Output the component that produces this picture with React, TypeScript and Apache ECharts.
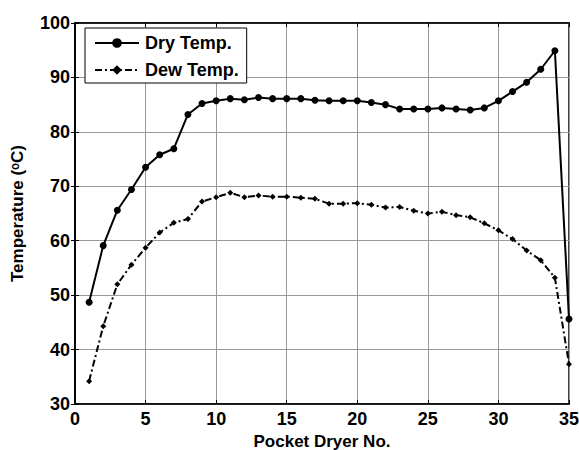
import React, { useEffect, useRef } from "react";
import * as echarts from "echarts";

const dryerNo = Array.from({ length: 35 }, (_, i) => i + 1);
const dryTemp = [48.7, 59.1, 65.6, 69.4, 73.5, 75.8, 76.9, 83.2, 85.2, 85.7, 86.1, 85.9, 86.3, 86.1, 86.1, 86.1, 85.8, 85.7, 85.7, 85.7, 85.4, 85.0, 84.2, 84.2, 84.2, 84.4, 84.2, 84.0, 84.4, 85.7, 87.4, 89.1, 91.5, 94.9, 45.6];
const dewTemp = [34.2, 44.3, 52.0, 55.6, 58.7, 61.5, 63.3, 64.0, 67.2, 68.0, 68.8, 68.0, 68.3, 68.1, 68.1, 67.9, 67.7, 66.8, 66.8, 66.9, 66.6, 66.1, 66.2, 65.5, 65.0, 65.3, 64.7, 64.3, 63.2, 61.9, 60.3, 58.2, 56.4, 53.2, 37.3];

const FONT = "'Liberation Sans', Arial, sans-serif";

export default function App() {
  const ref = useRef<HTMLDivElement>(null);
  useEffect(() => {
    const chart = echarts.init(ref.current!, undefined, { renderer: "svg" });
    const axisLabel = { color: "#000", fontFamily: FONT, fontWeight: "bold", fontSize: 18 };
    const nameStyle = { color: "#000", fontFamily: FONT, fontWeight: "bold", fontSize: 17 };
    chart.setOption({
      animation: false,
      backgroundColor: "#fff",
      grid: {
        left: 75,
        right: 10,
        top: 23,
        bottom: 46,
        show: true,
        borderColor: "#000",
        borderWidth: 1.5,
        outerBoundsMode: "none",
        containLabel: false,
      },
      legend: {
        left: 85,
        top: 28,
        orient: "vertical",
        itemWidth: 44,
        itemHeight: 12,
        itemGap: 9,
        padding: [6, 8, 4, 9],
        borderColor: "#000",
        borderWidth: 1,
        borderRadius: 0,
        backgroundColor: "#fff",
        textStyle: { color: "#000", fontFamily: FONT, fontWeight: "bold", fontSize: 18, padding: [0, 0, 0, 1] },
        data: ["Dry Temp.", "Dew Temp."],
      },
      xAxis: [
        {
          type: "value",
          min: 0,
          max: 35,
          interval: 5,
          name: "Pocket Dryer No.",
          nameLocation: "middle",
          nameGap: 27,
          nameTextStyle: nameStyle,
          axisLine: { show: true, lineStyle: { color: "#000", width: 1.5 } },
          axisTick: { show: true, inside: true, length: 4, lineStyle: { color: "#000" } },
          axisLabel: { ...axisLabel, margin: 6 },
          splitLine: { show: true, lineStyle: { color: "#999", width: 1 } },
        },
        {
          type: "value",
          position: "top",
          min: 0,
          max: 35,
          interval: 5,
          axisLine: { show: true, lineStyle: { color: "#000", width: 1.5 } },
          axisTick: { show: true, inside: true, length: 4, lineStyle: { color: "#000" } },
          axisLabel: { show: false },
          splitLine: { show: false },
        },
      ],
      yAxis: [
        {
          type: "value",
          min: 30,
          max: 100,
          interval: 10,
          name: "Temperature (ᵒC)",
          nameLocation: "middle",
          nameGap: 49,
          nameTextStyle: nameStyle,
          axisLine: { show: true, lineStyle: { color: "#000", width: 1.5 } },
          axisTick: { show: true, inside: true, length: 4, lineStyle: { color: "#000" } },
          axisLabel: { ...axisLabel, margin: 5 },
          splitLine: { show: true, lineStyle: { color: "#999", width: 1 } },
        },
        {
          type: "value",
          position: "right",
          min: 30,
          max: 100,
          interval: 10,
          axisLine: { show: true, lineStyle: { color: "#000", width: 1.5 } },
          axisTick: { show: true, inside: true, length: 4, lineStyle: { color: "#000" } },
          axisLabel: { show: false },
          splitLine: { show: false },
        },
      ],
      series: [
        {
          name: "Dry Temp.",
          type: "line",
          data: dryerNo.map((x, i) => [x, dryTemp[i]]),
          symbol: "circle",
          symbolSize: 7,
          lineStyle: { color: "#000", width: 2 },
          itemStyle: { color: "#000" },
        },
        {
          name: "Dew Temp.",
          type: "line",
          data: dryerNo.map((x, i) => [x, dewTemp[i]]),
          symbol: "diamond",
          symbolSize: 6,
          lineStyle: { color: "#000", width: 2, type: [7, 3, 2, 3] },
          itemStyle: { color: "#000" },
        },
      ],
    });
    return () => chart.dispose();
  }, []);
  return <div ref={ref} style={{ width: 579, height: 450, position: "absolute", left: 0, top: 0 }} />;
}
